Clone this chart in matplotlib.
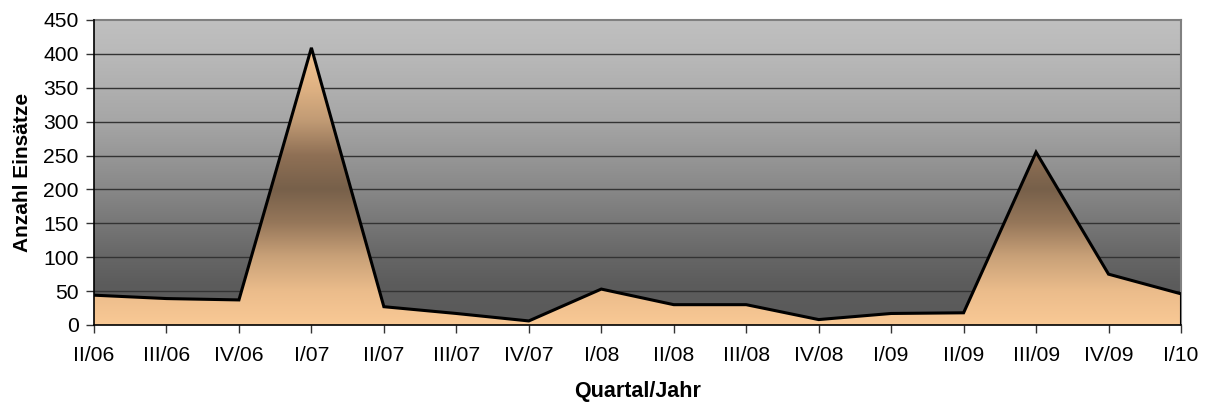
import numpy as np
import matplotlib
matplotlib.use("Agg")
import matplotlib.pyplot as plt
from matplotlib.colors import LinearSegmentedColormap
from matplotlib.patches import Polygon

plt.rcParams["font.family"] = ["Liberation Sans", "DejaVu Sans"]

# ---- data ----
quarters = ["II/06", "III/06", "IV/06", "I/07", "II/07", "III/07", "IV/07", "I/08",
            "II/08", "III/08", "IV/08", "I/09", "II/09", "III/09", "IV/09", "I/10"]
einsaetze = [44, 39, 37, 409, 27, 17, 6, 53, 30, 30, 8, 17, 18, 255, 75, 46]
y_ticks = [0, 50, 100, 150, 200, 250, 300, 350, 400, 450]

# ---- gradient stops (value on y-axis, colour) ----
bg_stops = [(0, "#5a5a5a"), (60, "#5c5c5c"), (100, "#666666"), (200, "#888888"),
            (300, "#a6a6a6"), (400, "#b9b9b9"), (450, "#c0c0c0")]
area_stops = [(0, "#f9c995"), (50, "#ebbc8b"), (100, "#c9a178"), (150, "#96775a"),
              (200, "#77604a"), (250, "#8f7055"), (300, "#c09a74"), (350, "#dfb283"),
              (410, "#f7c793"), (450, "#f9c995")]

YMAX = 450


def make_cmap(stops, name):
    return LinearSegmentedColormap.from_list(name, [(v / YMAX, c) for v, c in stops])


fig = plt.figure(figsize=(12.05, 4.03), dpi=100)
ax = fig.add_axes([94 / 1205, 1 - 325 / 403, (1181 - 94) / 1205, (325 - 20) / 403])

x = np.arange(len(quarters))
n = len(quarters) - 1
grad = np.linspace(0, 1, 512).reshape(-1, 1)

# background gradient
ax.imshow(grad, cmap=make_cmap(bg_stops, "bg"), origin="lower", aspect="auto",
          extent=[0, n, 0, YMAX], zorder=0, interpolation="bicubic")

# grid lines
for yv in y_ticks[1:-1]:
    ax.axhline(yv, color="#333333", lw=1.0, zorder=1)

# area with vertical gradient
verts = [(0, 0)] + list(zip(x, einsaetze)) + [(n, 0)]
poly = Polygon(verts, closed=True, facecolor="none", edgecolor="none")
ax.add_patch(poly)
img = ax.imshow(grad, cmap=make_cmap(area_stops, "area"), origin="lower", aspect="auto",
                extent=[0, n, 0, YMAX], zorder=2, interpolation="bicubic")
img.set_clip_path(poly)
ax.plot(x, einsaetze, color="black", lw=2.2, zorder=3, solid_joinstyle="miter")
ax.plot([n, n], [0, einsaetze[-1]], color="black", lw=2.2, zorder=3)

ax.set_xlim(0, n)
ax.set_ylim(0, YMAX)
ax.set_xticks(x)
ax.set_xticklabels(quarters)
ax.set_yticks(y_ticks)

for side in ("top", "right"):
    ax.spines[side].set_color("#808080")
    ax.spines[side].set_linewidth(1.5)
for side in ("left", "bottom"):
    ax.spines[side].set_color("black")
    ax.spines[side].set_linewidth(1.2)
ax.spines["left"].set_zorder(4)
ax.spines["bottom"].set_zorder(4)

ax.tick_params(axis="both", direction="out", length=6, width=1, color="#333333",
               labelsize=15.2, pad=5)
ax.tick_params(axis="x", pad=9)

ax.set_xlabel("Quartal/Jahr", fontsize=15.5, fontweight="bold", labelpad=12)
ax.set_ylabel("Anzahl Einsätze", fontsize=15, fontweight="bold", labelpad=8)

fig.savefig("out.png", dpi=100)
